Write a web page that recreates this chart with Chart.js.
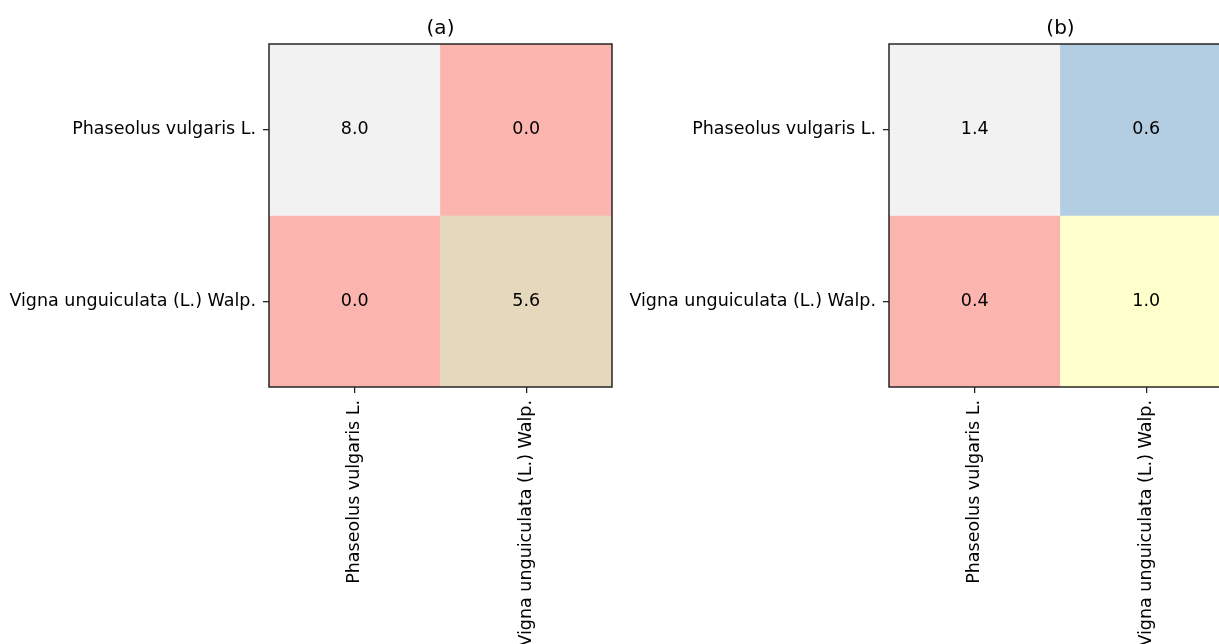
<!DOCTYPE html>
<html>
<head>
<meta charset="utf-8">
<script src="https://cdn.jsdelivr.net/npm/chart.js@4.4.0/dist/chart.umd.min.js"></script>
<style>
  html, body { margin: 0; padding: 0; background: #fff; overflow: hidden; }
  body { width: 1219px; height: 644px; position: relative; }
  canvas { position: absolute; top: 0; }
  #chartA { left: 0; }
  #chartB { left: 620px; }
</style>
</head>
<body>
<canvas id="chartA" width="640" height="644"></canvas>
<canvas id="chartB" width="640" height="644"></canvas>
<script>
// Species compared in both matrices (rows and columns)
const speciesLabels = ['Phaseolus vulgaris L.', 'Vigna unguiculata (L.) Walp.'];
const panelTitles = ['(a)', '(b)'];
// Matrix values, row by row
const valuesA = [[8.0, 0.0], [0.0, 5.6]];
const valuesB = [[1.4, 0.6], [0.4, 1.0]];

// Pastel1 qualitative palette
const pastel1 = ['#fbb4ae', '#b3cde3', '#ccebc5', '#decbe4', '#fed9a6',
                 '#ffffcc', '#e5d8bd', '#fddaec', '#f2f2f2'];

const FONT = 'DejaVu Sans';
const FONT_SIZE = 17.5;
const TITLE_SIZE = 20;
const LINE_COLOR = '#262626';

function colorFor(v, min, max) {
  const t = max > min ? (v - min) / (max - min) : 0;
  const idx = Math.max(0, Math.min(pastel1.length - 1, Math.floor(t * pastel1.length)));
  return pastel1[idx];
}

// Frame, cell annotations and panel title
const heatmapDecor = {
  id: 'heatmapDecor',
  afterDatasetsDraw(chart, args, opts) {
    const { ctx, chartArea: a, scales } = chart;
    ctx.save();
    ctx.strokeStyle = LINE_COLOR;
    ctx.lineWidth = 1.5;
    ctx.strokeRect(a.left, a.top, a.right - a.left, a.bottom - a.top);
    ctx.fillStyle = '#000';
    ctx.font = FONT_SIZE + 'px "' + FONT + '"';
    ctx.textAlign = 'center';
    ctx.textBaseline = 'middle';
    opts.values.forEach((row, r) => {
      row.forEach((v, c) => {
        const x = scales.x.getPixelForValue(c);
        const y = scales.y.getPixelForValue(r);
        ctx.fillText(v.toFixed(1), x, y);
      });
    });
    ctx.font = TITLE_SIZE + 'px "' + FONT + '"';
    ctx.textBaseline = 'alphabetic';
    ctx.fillText(opts.title, (a.left + a.right) / 2, a.top - 10);
    ctx.restore();
  }
};

function makeHeatmap(canvasId, values, title) {
  const flat = values.flat();
  const min = Math.min(...flat), max = Math.max(...flat);
  const datasets = values.map((row, r) => ({
    data: row.map(() => [r - 0.5, r + 0.5]),
    backgroundColor: row.map(v => colorFor(v, min, max)),
    borderWidth: 0,
    barPercentage: 1,
    categoryPercentage: 1,
    grouped: false
  }));
  return new Chart(document.getElementById(canvasId), {
    type: 'bar',
    data: { labels: speciesLabels, datasets },
    options: {
      responsive: false,
      animation: false,
      events: [],
      devicePixelRatio: 1,
      layout: { padding: { top: 44, right: 28, left: 0, bottom: 0 } },
      plugins: {
        legend: { display: false },
        tooltip: { enabled: false },
        heatmapDecor: { values, title }
      },
      scales: {
        x: {
          type: 'category',
          offset: true,
          grid: { display: true, drawOnChartArea: false, drawTicks: true, tickLength: 6, color: LINE_COLOR, lineWidth: 1.3, offset: false },
          border: { display: false },
          ticks: {
            color: '#000', font: { family: FONT, size: FONT_SIZE },
            minRotation: 90, maxRotation: 90, autoSkip: false, padding: 7
          },
          afterFit(scale) { scale.height = 257; }
        },
        y: {
          type: 'linear',
          min: -0.5, max: 1.5,
          reverse: true,
          grid: { display: true, drawOnChartArea: false, drawTicks: true, tickLength: 6, color: LINE_COLOR, lineWidth: 1.3 },
          border: { display: false },
          afterBuildTicks(scale) {
            scale.ticks = speciesLabels.map((_, i) => ({ value: i }));
          },
          ticks: {
            color: '#000', font: { family: FONT, size: FONT_SIZE },
            autoSkip: false, padding: 7,
            callback: (v) => speciesLabels[v]
          },
          afterFit(scale) { scale.width = 269; }
        }
      }
    },
    plugins: [heatmapDecor]
  });
}

makeHeatmap('chartA', valuesA, panelTitles[0]);
makeHeatmap('chartB', valuesB, panelTitles[1]);
</script>
</body>
</html>
